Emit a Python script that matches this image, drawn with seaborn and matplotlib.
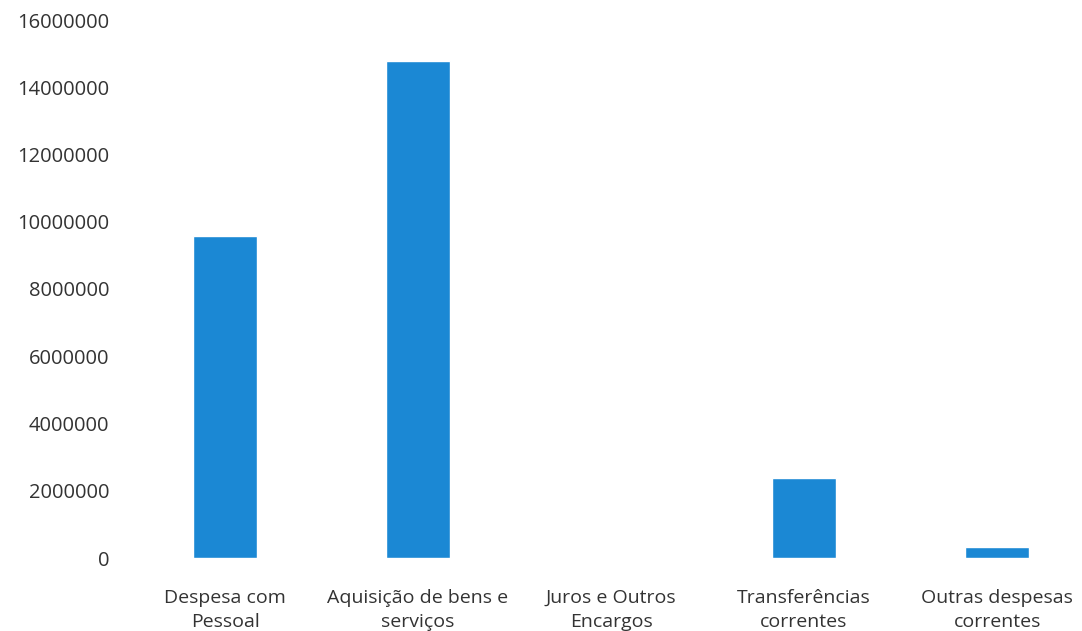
import matplotlib
matplotlib.use("Agg")
import matplotlib.pyplot as plt
import seaborn as sns
import pandas as pd

categories = ["Despesa com\nPessoal", "Aquisição de bens e\nserviços", "Juros e Outros\nEncargos",
              "Transferências\ncorrentes", "Outras despesas\ncorrentes"]
values = [9580000, 14790000, 0, 2370000, 340000]
yticks = [0, 2000000, 4000000, 6000000, 8000000, 10000000, 12000000, 14000000, 16000000]

sns.set_theme(style="white")
plt.rcParams['font.family'] = ['Open Sans', 'DejaVu Sans']

df = pd.DataFrame({"cat": categories, "val": values})

fig = plt.figure(figsize=(10.82, 6.31), dpi=100)
ax = fig.add_axes([128.5 / 1082, (631 - 558) / 631, (1082 - 128.5) / 1082, (558 - 20) / 631])
sns.barplot(data=df, x="cat", y="val", color="#1b88d4", width=0.33, ax=ax, saturation=1)
ax.set_xlim(-0.5, 4.44)
ax.set_ylim(0, 16000000)
ax.set_yticks(yticks)
ax.set_yticklabels([str(v) for v in yticks], fontsize=14.5, color="#333333")
ax.tick_params(axis="x", labelsize=14, colors="#333333", length=0, pad=22)
ax.tick_params(axis="y", length=0, pad=14)
for lbl in ax.get_yticklabels():
    lbl.set_horizontalalignment("right")
for lbl in ax.get_xticklabels():
    lbl.set_linespacing(1.45)
ax.set_xlabel("")
ax.set_ylabel("")
for s in ax.spines.values():
    s.set_visible(False)
fig.savefig("out.png", dpi=100)
